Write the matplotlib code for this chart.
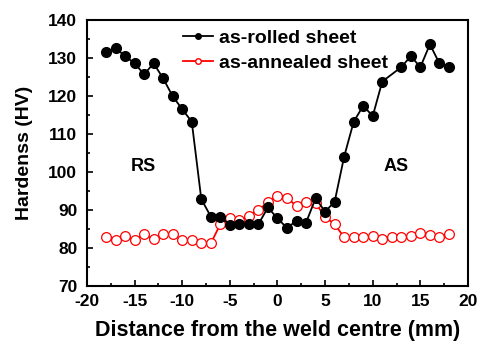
import matplotlib
matplotlib.use("Agg")
import matplotlib.pyplot as plt
from matplotlib.lines import Line2D
from matplotlib.ticker import MultipleLocator

plt.rcParams['font.family'] = ['Liberation Sans', 'DejaVu Sans']
plt.rcParams['font.weight'] = 'bold'
plt.rcParams['axes.unicode_minus'] = False

# as-rolled sheet (point at 12 mm hidden behind legend in the original)
rolled_x = [-18, -17, -16, -15, -14, -13, -12, -11, -10, -9, -8, -7, -6, -5, -4, -3, -2, -1,
            0, 1, 2, 3, 4, 5, 6, 7, 8, 9, 10, 11, 13, 14, 15, 16, 17, 18]
rolled_hv = [131.6, 132.7, 130.6, 128.7, 125.8, 128.7, 124.7, 120.0, 116.6, 113.3, 92.9, 88.3,
             88.3, 86.0, 86.3, 86.3, 86.3, 90.7, 87.8, 85.3, 87.2, 86.7, 93.1, 89.6, 92.2,
             104.1, 113.3, 117.5, 114.8, 123.9, 127.7, 130.6, 127.7, 133.7, 128.7, 127.7]

# as-annealed sheet
annealed_x = list(range(-18, 19))
annealed_hv = [82.9, 82.1, 83.2, 82.1, 83.6, 82.3, 83.6, 83.6, 82.1, 82.1, 81.2, 81.2,
               86.3, 87.9, 87.3, 88.5, 90.1, 92.0, 93.8, 93.3, 91.0, 92.0, 91.8, 88.2,
               86.3, 82.8, 82.8, 82.8, 83.1, 82.3, 82.8, 82.8, 83.1, 83.9, 83.3, 82.8, 83.6]

fig = plt.figure(figsize=(4.79, 3.47), dpi=100)
ax = fig.add_axes([0.1816, 0.176, 0.7954, 0.765])

ax.plot(rolled_x, rolled_hv, '-o', color='black', lw=1.3, ms=7, zorder=3)
ax.plot(annealed_x, annealed_hv, '-o', color='red', lw=1.3, ms=7,
        markerfacecolor='white', markeredgecolor='red', markeredgewidth=0.9, zorder=2)

ax.set_xlim(-20, 20)
ax.set_ylim(70, 140)
ax.xaxis.set_major_locator(MultipleLocator(5))
ax.xaxis.set_minor_locator(MultipleLocator(2.5))
ax.yaxis.set_major_locator(MultipleLocator(10))
ax.yaxis.set_minor_locator(MultipleLocator(5))
ax.tick_params(which='both', direction='in', labelsize=12.5, width=1.2)
ax.tick_params(which='major', length=4)
ax.tick_params(which='minor', length=2.5)
ax.tick_params(axis='x', pad=6)
ax.tick_params(axis='y', pad=7)
for s in ax.spines.values():
    s.set_linewidth(1.5)

ax.set_xlabel('Distance from the weld centre (mm)', fontsize=15.5, fontweight='bold', labelpad=8)
ax.set_ylabel('Hardenss (HV)', fontsize=14, fontweight='bold', labelpad=11)

ax.text(-14.1, 101.5, 'RS', fontsize=13, fontweight='bold', ha='center', va='center')
ax.text(12.5, 101.5, 'AS', fontsize=13, fontweight='bold', ha='center', va='center')

handles = [
    Line2D([], [], color='black', lw=1.3, marker='o', ms=4),
    Line2D([], [], color='red', lw=1.3, marker='o', ms=4,
           markerfacecolor='white', markeredgecolor='red'),
]
ax.legend(handles, ['as-rolled sheet', 'as-annealed sheet'], loc='upper left',
          bbox_to_anchor=(0.252, 0.966), frameon=False, fontsize=14, handlelength=1.55,
          handletextpad=0.3, labelspacing=0.38, borderpad=0, borderaxespad=0)

fig.savefig('out.png', dpi=100)
